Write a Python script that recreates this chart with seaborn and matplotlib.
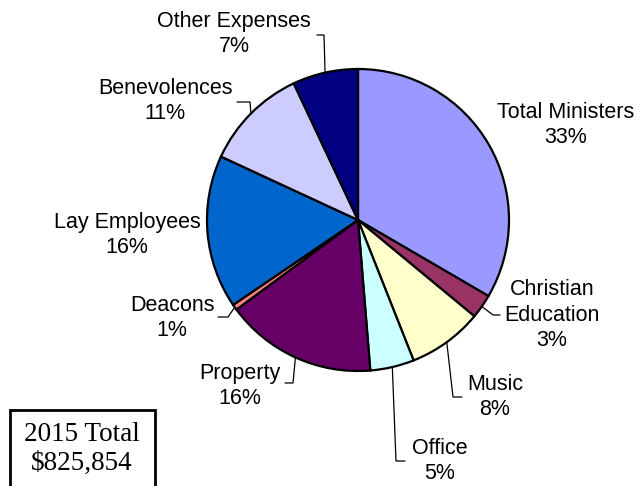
import numpy as np
import matplotlib
matplotlib.use("Agg")
import matplotlib.pyplot as plt
import seaborn as sns
from matplotlib.patches import Rectangle

sns.set_style("white")
plt.rcParams['font.family'] = ['Liberation Sans', 'DejaVu Sans']
plt.rcParams['text.color'] = 'black'

# ---- data ----
categories = ["Total Ministers", "Christian\nEducation", "Music", "Office", "Property",
              "Deacons", "Lay Employees", "Benevolences", "Other Expenses"]
shares = [33.4, 2.6, 8.0, 4.7, 16.2, 0.6, 16.4, 11.1, 7.0]
pct_labels = ["33%", "3%", "8%", "5%", "16%", "1%", "16%", "11%", "7%"]
colors = ["#9999FF", "#993366", "#FFFFCC", "#CCFFFF", "#660066",
          "#FF8080", "#0066CC", "#CCCCFF", "#000080"]
total_title = "2015 Total"
total_value = "$825,854"

# ---- layout (pixel positions of label centres, image coords from top-left) ----
W, H = 640, 486
label_px = [(566, 125), (552, 315), (495, 397), (440, 461), (240, 386),
            (172, 318), (127, 235), (165, 101), (234, 34)]
# elbow of leader line: (start x, y, elbow x) or None
leader_px = [None, (500, 315, 493), (462, 397, 453), (405, 461, 396), (285, 383, 293),
             (218, 317, 228), None, (237, 102, 250), (317, 35, 324)]

fig = plt.figure(figsize=(6.4, 4.86), dpi=100)
cx, cy, r = 358, 220, 151
ax = fig.add_axes([(cx - r) / W, (H - cy - r) / H, 2 * r / W, 2 * r / H])
wedges, _ = ax.pie(shares, colors=colors, startangle=90, counterclock=False,
                   wedgeprops=dict(edgecolor="black", linewidth=1.6))
ax.set_xlim(-1, 1)
ax.set_ylim(-1, 1)
ax.set_aspect("equal")
ax.axis("off")

def px2data(x, y):
    return ax.transData.inverted().transform((x, H - y))

for i, w in enumerate(wedges):
    tx, ty = px2data(*label_px[i])
    ax.text(tx, ty, categories[i] + "\n" + pct_labels[i], ha="center", va="center",
            multialignment="center", fontsize=15.5, linespacing=1.3, clip_on=False,
            color="black")
    if leader_px[i] is not None:
        sx, sy, ex = leader_px[i]
        p0 = px2data(sx, sy)
        p1 = px2data(ex, sy)
        ang = np.deg2rad((w.theta1 + w.theta2) / 2)
        p2 = (np.cos(ang), np.sin(ang))
        ax.plot([p0[0], p1[0], p2[0]], [p0[1], p1[1], p2[1]], color="black",
                lw=0.9, clip_on=False, solid_joinstyle="miter")

# total box
fig.patches.append(Rectangle((9.5 / W, -0.05), 145 / W, (H - 409.5) / H + 0.05,
                             transform=fig.transFigure, fill=False, edgecolor="black",
                             linewidth=2.0, clip_on=False))
fig.text(82 / W, 1 - 449 / H, total_title + "\n" + total_value, ha="center", va="center",
         fontsize=19.5, family=["Liberation Serif", "DejaVu Serif"], linespacing=1.22,
         color="black")

fig.savefig("out.png", dpi=100)
